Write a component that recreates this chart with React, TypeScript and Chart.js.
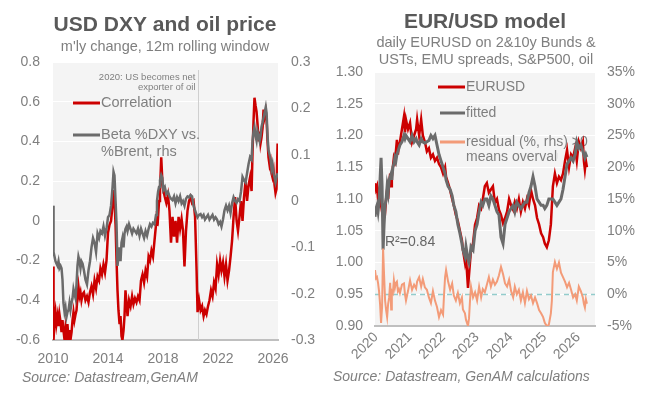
import React, { useEffect, useRef } from "react";
import { Chart, registerables } from "chart.js";

Chart.register(...registerables);

const FONT = "'Liberation Sans', Arial, Helvetica, sans-serif";
const RED = "#cc0000";
const GRAY = "#6b6b6b";
const SALMON = "#f39b78";
const TICK_COLOR = "#7f7f7f";
const TITLE_COLOR = "#595959";

// ---------------- Left panel: USD DXY and oil price ----------------
const dxyDates = [
  2010.0, 2010.04, 2010.11, 2010.18, 2010.25, 2010.33, 2010.4, 2010.47, 2010.55, 2010.62,
  2010.69, 2010.76, 2010.84, 2010.91, 2010.98, 2011.05, 2011.13, 2011.2, 2011.27, 2011.35,
  2011.42, 2011.49, 2011.56, 2011.64, 2011.71, 2011.78, 2011.85, 2011.93, 2012.0, 2012.07,
  2012.15, 2012.25, 2012.36, 2012.47, 2012.58, 2012.69, 2012.8, 2012.91, 2013.02, 2013.13,
  2013.24, 2013.35, 2013.45, 2013.56, 2013.67, 2013.78, 2013.89, 2014.0, 2014.11, 2014.22,
  2014.33, 2014.4, 2014.47, 2014.55, 2014.62, 2014.69, 2014.76, 2014.84, 2014.91, 2014.98,
  2015.05, 2015.13, 2015.2, 2015.27, 2015.35, 2015.42, 2015.53, 2015.64, 2015.75, 2015.85,
  2015.96, 2016.07, 2016.18, 2016.29, 2016.4, 2016.51, 2016.62, 2016.73, 2016.84, 2016.95,
  2017.05, 2017.16, 2017.27, 2017.38, 2017.49, 2017.56, 2017.64, 2017.71, 2017.78, 2017.87,
  2017.95, 2018.02, 2018.13, 2018.24, 2018.36, 2018.47, 2018.58, 2018.69, 2018.8, 2018.91,
  2019.02, 2019.13, 2019.24, 2019.35, 2019.45, 2019.56, 2019.67, 2019.78, 2019.89, 2020.0,
  2020.11, 2020.22, 2020.33, 2020.44, 2020.51, 2020.62, 2020.73, 2020.84, 2020.95, 2021.05,
  2021.16, 2021.27, 2021.38, 2021.49, 2021.6, 2021.71, 2021.82, 2021.93, 2022.04, 2022.15,
  2022.25, 2022.36, 2022.47, 2022.58, 2022.69, 2022.8, 2022.91, 2023.02, 2023.13, 2023.24,
  2023.35, 2023.45, 2023.56, 2023.67, 2023.78, 2023.89, 2024.0, 2024.11, 2024.22, 2024.33,
  2024.44, 2024.51, 2024.58, 2024.65, 2024.73, 2024.8, 2024.87, 2024.95, 2025.02, 2025.09,
  2025.16, 2025.24, 2025.31, 2025.38, 2025.47, 2025.53, 2025.6, 2025.67, 2025.75, 2025.82,
  2025.89, 2025.96, 2026.04, 2026.11, 2026.18, 2026.25, 2026.33,
];

const correlation = [
  -0.23, -0.6, -0.5, -0.46, -0.52, -0.48, -0.53, -0.47, -0.51, -0.56,
  -0.5, -0.55, -0.6, -0.54, -0.58, -0.52, -0.6, -0.55, -0.6, -0.56,
  -0.5, -0.46, -0.5, -0.47, -0.45, -0.38, -0.33, -0.38, -0.36, -0.4,
  -0.37, -0.36, -0.4, -0.38, -0.41, -0.36, -0.33, -0.37, -0.3, -0.34,
  -0.28, -0.3, -0.24, -0.27, -0.22, -0.26, -0.2, -0.06, -0.02, 0.0,
  0.08, 0.155, 0.1, -0.02, -0.2, -0.35, -0.45, -0.52, -0.48, -0.58,
  -0.6, -0.55, -0.48, -0.35, -0.42, -0.48, -0.4, -0.43, -0.38, -0.42,
  -0.39, -0.41, -0.38, -0.4, -0.3, -0.27, -0.31, -0.25, -0.28, -0.18,
  -0.2, -0.15, -0.18, -0.1, -0.02, 0.05, 0.02, 0.1, 0.15, 0.32,
  0.2, 0.155, 0.12, 0.09, 0.13, 0.05, -0.11, 0.02, -0.08, 0.0,
  -0.11, 0.02, -0.04, 0.01, -0.046, -0.23, -0.05, 0.05, 0.1, 0.12,
  0.09, 0.1, 0.02, -0.25, -0.46, -0.4, -0.45, -0.43, -0.48, -0.45,
  -0.47, -0.43, -0.4, -0.35, -0.38, -0.31, -0.34, -0.22, -0.27, -0.2,
  -0.25, -0.21, -0.28, -0.22, -0.3, -0.25, -0.18, -0.1, 0.02, 0.12,
  0.0, -0.05, 0.02, 0.1, 0.0, 0.12, 0.2, 0.1, 0.18, 0.22,
  0.15, 0.35, 0.5, 0.62, 0.58, 0.55, 0.49, 0.4, 0.45, 0.39,
  0.42, 0.47, 0.56, 0.52, 0.55, 0.51, 0.4, 0.32, 0.28, 0.3,
  0.24, 0.22, 0.25, 0.18, 0.14, 0.16, 0.39,
];

const betaDxyBrent = [
  -0.01, -0.11, -0.12, -0.13, -0.135, -0.14, -0.13, -0.145, -0.14, -0.145,
  -0.17, -0.22, -0.24, -0.23, -0.25, -0.24, -0.235, -0.22, -0.235, -0.22,
  -0.21, -0.19, -0.2, -0.21, -0.18, -0.14, -0.12, -0.13, -0.145, -0.13,
  -0.135, -0.15, -0.17, -0.18, -0.15, -0.13, -0.1, -0.08, -0.09, -0.11,
  -0.07, -0.08, -0.065, -0.07, -0.055, -0.075, -0.06, -0.035, -0.03, -0.01,
  0.03, 0.063, 0.055, 0.0, -0.05, -0.14, -0.12, -0.1, -0.13, -0.09,
  -0.08, -0.1, -0.07, -0.06, -0.055, -0.065, -0.05, -0.06, -0.07, -0.06,
  -0.065, -0.07, -0.06, -0.075, -0.06, -0.07, -0.08, -0.065, -0.075, -0.06,
  -0.05, -0.055, -0.047, -0.05, -0.03, 0.0, 0.02, 0.03, 0.045, 0.056,
  0.05, 0.024, 0.03, 0.015, 0.02, 0.01, 0.005, 0.002, 0.01, -0.005,
  0.008, 0.0, 0.01, -0.005, 0.0, -0.01, 0.005, 0.01, 0.008, 0.013,
  0.01, -0.01, -0.02, -0.03, -0.035, -0.03, -0.028, -0.035, -0.03, -0.04,
  -0.035, -0.03, -0.04, -0.035, -0.03, -0.04, -0.035, -0.04, -0.05, -0.045,
  -0.055, -0.04, -0.02, -0.01, -0.02, -0.01, -0.026, -0.005, 0.008, 0.0,
  -0.004, 0.004, 0.0, 0.02, 0.052, 0.045, 0.04, 0.06, 0.08, 0.095,
  0.09, 0.13, 0.15, 0.16, 0.14, 0.13, 0.15, 0.14, 0.13, 0.14,
  0.16, 0.17, 0.18, 0.19, 0.203, 0.19, 0.14, 0.11, 0.1, 0.09,
  0.07, 0.08, 0.06, 0.05, 0.04, 0.05, 0.06,
];

const dxyYearTicks = [2010, 2014, 2018, 2022, 2026];
const corrTicks = [-0.6, -0.4, -0.2, 0, 0.2, 0.4, 0.6, 0.8];
const betaTicks = [-0.3, -0.2, -0.1, 0, 0.1, 0.2, 0.3];
const usNetExporterYear = 2020.55;

// ---------------- Right panel: EUR/USD model ----------------
const eurDates = [
  2019.97, 2020.0, 2020.03, 2020.06, 2020.09, 2020.12, 2020.15, 2020.18, 2020.21, 2020.24,
  2020.27, 2020.3, 2020.33, 2020.36, 2020.39, 2020.42, 2020.45, 2020.47, 2020.5, 2020.53,
  2020.56, 2020.59, 2020.62, 2020.65, 2020.68, 2020.71, 2020.77, 2020.83, 2020.86, 2020.89,
  2020.95, 2021.01, 2021.07, 2021.13, 2021.19, 2021.22, 2021.28, 2021.34, 2021.39, 2021.45,
  2021.51, 2021.57, 2021.63, 2021.69, 2021.75, 2021.81, 2021.87, 2021.93, 2021.99, 2022.02,
  2022.05, 2022.08, 2022.14, 2022.2, 2022.26, 2022.31, 2022.37, 2022.43, 2022.49, 2022.55,
  2022.58, 2022.64, 2022.67, 2022.73, 2022.76, 2022.79, 2022.82, 2022.88, 2022.94, 2023.0,
  2023.06, 2023.12, 2023.17, 2023.23, 2023.29, 2023.35, 2023.41, 2023.47, 2023.53, 2023.59,
  2023.65, 2023.71, 2023.77, 2023.83, 2023.89, 2023.95, 2024.01, 2024.07, 2024.12, 2024.18,
  2024.24, 2024.3, 2024.36, 2024.42, 2024.48, 2024.54, 2024.6, 2024.66, 2024.72, 2024.78,
  2024.84, 2024.9, 2024.96, 2025.01, 2025.07, 2025.13, 2025.19, 2025.22, 2025.25, 2025.31,
  2025.37, 2025.43, 2025.49, 2025.55, 2025.61, 2025.67, 2025.73, 2025.79, 2025.85, 2025.91,
  2025.96, 2026.02, 2026.08, 2026.14, 2026.17, 2026.2, 2026.23, 2026.26,
];

const eurusd = [
  1.125, 1.115, 1.12, 1.1, 1.11, 1.1, 1.09, 1.08, 1.072, 1.085,
  1.08, 1.1, 1.115, 1.1, 1.125, 1.14, 1.12, 1.135, 1.15, 1.165,
  1.16, 1.175, 1.193, 1.17, 1.185, 1.19, 1.21, 1.23, 1.205, 1.225,
  1.21, 1.22, 1.19, 1.2, 1.21, 1.225, 1.2, 1.225, 1.2, 1.19,
  1.175, 1.18, 1.165, 1.17, 1.16, 1.165, 1.155, 1.15, 1.14, 1.145,
  1.15, 1.135, 1.125, 1.114, 1.1, 1.09, 1.075, 1.065, 1.05, 1.035,
  1.02, 1.0, 1.01, 0.96, 0.98, 1.0, 1.02, 1.03, 1.06, 1.07,
  1.09, 1.085, 1.1, 1.12, 1.125, 1.11, 1.115, 1.12, 1.094, 1.1,
  1.083, 1.075, 1.062, 1.07, 1.08, 1.1, 1.09, 1.083, 1.095, 1.085,
  1.1, 1.08, 1.095, 1.085, 1.1, 1.09, 1.114, 1.1, 1.09, 1.07,
  1.06, 1.046, 1.04, 1.03, 1.024, 1.035, 1.06, 1.09, 1.12, 1.14,
  1.125, 1.135, 1.13, 1.14, 1.16, 1.177, 1.15, 1.17, 1.165, 1.18,
  1.16, 1.19, 1.18, 1.19, 1.16, 1.146, 1.16, 1.15,
];

const fitted = [
  1.072, 1.085, 1.09, 1.08, 1.095, 1.13, 1.165, 1.12, 1.02, 1.06,
  1.09, 1.1, 1.12, 1.11, 1.13, 1.135, 1.14, 1.13, 1.15, 1.155,
  1.165, 1.16, 1.17, 1.175, 1.18, 1.185, 1.19, 1.2, 1.195, 1.2,
  1.195, 1.19, 1.2, 1.19, 1.195, 1.19, 1.185, 1.195, 1.19, 1.188,
  1.19, 1.192, 1.2, 1.195, 1.2, 1.185, 1.17, 1.16, 1.15, 1.145,
  1.14, 1.13, 1.12, 1.115, 1.105, 1.09, 1.08, 1.06, 1.046, 1.03,
  1.02, 1.01, 1.025, 1.005, 1.0, 1.01, 1.025, 1.02, 1.05, 1.06,
  1.08, 1.095, 1.09, 1.1, 1.1, 1.09, 1.105, 1.1, 1.09, 1.08,
  1.075, 1.04, 1.03, 1.06, 1.07, 1.08, 1.085, 1.09, 1.08, 1.095,
  1.09, 1.085, 1.09, 1.095, 1.095, 1.11, 1.12, 1.135, 1.12, 1.1,
  1.095, 1.09, 1.09, 1.085, 1.09, 1.1, 1.1, 1.1, 1.1, 1.095,
  1.09, 1.095, 1.1, 1.115, 1.135, 1.155, 1.16, 1.165, 1.16, 1.17,
  1.19, 1.18, 1.185, 1.175, 1.17, 1.165, 1.17, 1.166,
];

const residual = [
  3.8, 2.5, 2.7, 1.8, 0.5, -1.5, -4.5, -2.0, 7.2, 3.0,
  -1.0, -2.5, -3.6, -1.5, -0.5, 1.8, -2.4, 0.5, 0.2, 2.2,
  1.0, 1.8, 2.0, 0.5, 0.8, 0.2, 1.5, 1.7, 0.0, -1.0,
  0.5, 2.2, 0.7, 1.5, 0.9, 2.0, 2.7, 1.2, 2.4, 1.1,
  0.7, -0.5, -1.4, 0.5, -1.0, -2.0, -3.6, -2.5, -3.2, 0.0,
  2.7, 3.8, 2.0, 0.7, 1.7, -0.2, -1.0, 0.2, -1.4, -0.5,
  -2.4, -3.0, -4.0, -5.0, -3.8, -1.0, 1.2, -0.5, 0.3, -1.0,
  1.2, -0.5, 0.8, 0.3, 1.5, 2.7, 1.2, 2.3, 1.5, 2.0,
  3.0, 4.3, 3.2, 1.7, 1.2, 2.3, 0.5, -0.5, 1.2, 0.0,
  0.7, -1.0, 0.3, -1.4, 0.5, -0.8, -0.2, -1.4, -0.5, -1.4,
  -2.5, -3.0, -3.6, -4.5, -5.0, -4.8, -3.0, -1.0, 3.5, 5.1,
  4.0, 5.0, 3.4, 2.7, 2.0, 1.1, 1.8, 0.7, -0.5, 0.0,
  -1.0, 1.2, 0.5, -0.5, -1.5, -2.1, -0.8, -1.5,
];

const eurYearTicks = [2020, 2021, 2022, 2023, 2024, 2025, 2026];
const eurTicks = [0.9, 0.95, 1.0, 1.05, 1.1, 1.15, 1.2, 1.25, 1.3];
const residTicks = [-5, 0, 5, 10, 15, 20, 25, 30, 35];
const rSquared = "R²=0.84";

// ---------------- helpers ----------------
const plotBg = {
  id: "plotBg",
  beforeDraw(chart: any) {
    const { ctx, chartArea: a } = chart;
    ctx.save();
    ctx.fillStyle = "#f4f4f4";
    ctx.fillRect(a.left, a.top, a.right - a.left, a.bottom - a.top);
    ctx.restore();
  },
};

function txt(
  ctx: CanvasRenderingContext2D,
  s: string,
  x: number,
  y: number,
  font: string,
  color: string,
  align: CanvasTextAlign = "left"
) {
  ctx.font = font;
  ctx.fillStyle = color;
  ctx.textAlign = align;
  ctx.textBaseline = "middle";
  ctx.fillText(s, x, y);
}

function sample(ctx: CanvasRenderingContext2D, x0: number, x1: number, y: number, color: string) {
  ctx.strokeStyle = color;
  ctx.lineWidth = 3;
  ctx.beginPath();
  ctx.moveTo(x0, y);
  ctx.lineTo(x1, y);
  ctx.stroke();
}

const tickFont = { family: FONT, size: 14 };

function pts(xs: number[], ys: number[]) {
  return xs.map((x, i) => ({ x, y: ys[i] }));
}

// ---------------- components ----------------
function LeftChart() {
  const ref = useRef<HTMLCanvasElement | null>(null);
  useEffect(() => {
    if (!ref.current) return;
    const decor = {
      id: "leftDecor",
      beforeDatasetsDraw(chart: any) {
        const { ctx, chartArea: a, scales } = chart;
        ctx.save();
        const vx = Math.round(scales.x.getPixelForValue(usNetExporterYear)) + 0.5;
        ctx.strokeStyle = "#cfcfcf";
        ctx.lineWidth = 1;
        ctx.beginPath();
        ctx.moveTo(vx, a.top + 8);
        ctx.lineTo(vx, a.bottom);
        ctx.stroke();
        txt(ctx, "2020: US becomes net", vx - 3, 77, `9.5px ${FONT}`, "#7f7f7f", "right");
        txt(ctx, "exporter of oil", vx - 3, 87, `9.5px ${FONT}`, "#7f7f7f", "right");
        sample(ctx, 73, 100, 103, RED);
        txt(ctx, "Correlation", 101, 103, `14.5px ${FONT}`, TICK_COLOR);
        sample(ctx, 73, 100, 135, GRAY);
        txt(ctx, "Beta %DXY vs.", 101, 135, `14.5px ${FONT}`, TICK_COLOR);
        txt(ctx, "%Brent, rhs", 101, 152, `14.5px ${FONT}`, TICK_COLOR);
        ctx.restore();
      },
      afterDraw(chart: any) {
        const { ctx } = chart;
        ctx.save();
        txt(ctx, "USD DXY and oil price", 165, 25, `bold 21px ${FONT}`, TITLE_COLOR, "center");
        txt(ctx, "m'ly change, 12m rolling window", 165, 47, `14.5px ${FONT}`, TICK_COLOR, "center");
        txt(ctx, "Source: Datastream,GenAM", 22, 378, `italic 14px ${FONT}`, TICK_COLOR);
        ctx.restore();
      },
    };
    const chart = new Chart(ref.current, {
      type: "line",
      data: {
        datasets: [
          {
            label: "Beta %DXY vs. %Brent, rhs",
            data: pts(dxyDates, betaDxyBrent),
            yAxisID: "y1",
            borderColor: GRAY,
            borderWidth: 2.5,
            pointRadius: 0,
            order: 1,
          },
          {
            label: "Correlation",
            data: pts(dxyDates, correlation),
            yAxisID: "y",
            borderColor: RED,
            borderWidth: 2.5,
            pointRadius: 0,
            order: 2,
          },
        ],
      },
      options: {
        responsive: false,
        animation: false,
        devicePixelRatio: 1,
        layout: { padding: { top: 62, left: 0, right: 0, bottom: 0 } },
        plugins: { legend: { display: false }, tooltip: { enabled: false } },
        scales: {
          x: {
            type: "linear",
            min: 2010,
            max: 2026.36,
            afterBuildTicks: (s: any) => {
              s.ticks = dxyYearTicks.map((v) => ({ value: v }));
            },
            afterFit: (s: any) => {
              s.height = 55;
            },
            grid: { display: false, drawTicks: false },
            border: { display: true, color: "#bfbfbf", width: 2 },
            ticks: {
              padding: 11,
              maxRotation: 0,
              minRotation: 0,
              autoSkip: false,
              color: TICK_COLOR,
              font: tickFont,
              callback: (v: any) => String(v),
            },
          },
          y: {
            position: "left",
            min: -0.6,
            max: 0.8,
            afterBuildTicks: (s: any) => {
              s.ticks = corrTicks.map((v) => ({ value: v }));
            },
            afterFit: (s: any) => {
              s.width = 53;
            },
            grid: { color: "#ffffff", lineWidth: 1, drawTicks: false },
            border: { display: false },
            ticks: {
              padding: 13,
              color: TICK_COLOR,
              font: tickFont,
              callback: (v: any) => (v === 0 ? "0" : Number(v).toFixed(1)),
            },
          },
          y1: {
            position: "right",
            min: -0.3,
            max: 0.3,
            afterBuildTicks: (s: any) => {
              s.ticks = betaTicks.map((v) => ({ value: v }));
            },
            afterFit: (s: any) => {
              s.width = 52;
            },
            grid: { display: false, drawTicks: false },
            border: { display: false },
            ticks: {
              padding: 13,
              color: TICK_COLOR,
              font: tickFont,
              callback: (v: any) => (v === 0 ? "0" : Number(v).toFixed(1)),
            },
          },
        },
      } as any,
      plugins: [plotBg, decor],
    });
    return () => chart.destroy();
  }, []);
  return (
    <canvas
      ref={ref}
      width={330}
      height={395}
      style={{ position: "absolute", left: 0, top: 0, width: 330, height: 395 }}
    />
  );
}

function RightChart() {
  const ref = useRef<HTMLCanvasElement | null>(null);
  useEffect(() => {
    if (!ref.current) return;
    const decor = {
      id: "rightDecor",
      beforeDatasetsDraw(chart: any) {
        const { ctx, chartArea: a, scales } = chart;
        ctx.save();
        const zy = Math.round(scales.y1.getPixelForValue(0)) + 0.5;
        ctx.strokeStyle = "#93cccc";
        ctx.lineWidth = 1.5;
        ctx.setLineDash([5, 4]);
        ctx.beginPath();
        ctx.moveTo(a.left, zy);
        ctx.lineTo(a.right, zy);
        ctx.stroke();
        ctx.setLineDash([]);
        sample(ctx, 108, 135, 87, RED);
        txt(ctx, "EURUSD", 136, 87, `14px ${FONT}`, TICK_COLOR);
        sample(ctx, 110, 135, 113, GRAY);
        txt(ctx, "fitted", 136, 113, `14px ${FONT}`, TICK_COLOR);
        sample(ctx, 110, 135, 142, SALMON);
        txt(ctx, "residual (%, rhs) >0", 136, 142, `14px ${FONT}`, TICK_COLOR);
        // legend box is narrower than the text: clip like the original legend
        ctx.save();
        ctx.beginPath();
        ctx.rect(100, 148, 128, 20);
        ctx.clip();
        txt(ctx, "means overvalued", 136, 157, `14px ${FONT}`, TICK_COLOR);
        ctx.restore();
        txt(ctx, rSquared, 55, 242, `14px ${FONT}`, "#666666");
        ctx.restore();
      },
      afterDraw(chart: any) {
        const { ctx } = chart;
        ctx.save();
        txt(ctx, "EUR/USD model", 155, 22, `bold 21px ${FONT}`, TITLE_COLOR, "center");
        txt(ctx, "daily EURUSD on 2&10y Bunds &", 156, 43, `14.5px ${FONT}`, TICK_COLOR, "center");
        txt(ctx, "USTs, EMU spreads, S&P500, oil", 156, 60, `14.5px ${FONT}`, TICK_COLOR, "center");
        txt(ctx, "Source: Datastream, GenAM calculations", 3, 377, `italic 14px ${FONT}`, TICK_COLOR);
        ctx.restore();
      },
    };
    const chart = new Chart(ref.current, {
      type: "line",
      data: {
        datasets: [
          {
            label: "residual (%, rhs) >0 means overvalued",
            data: pts(eurDates, residual),
            yAxisID: "y1",
            borderColor: SALMON,
            borderWidth: 2,
            pointRadius: 0,
            order: 0,
          },
          {
            label: "fitted",
            data: pts(eurDates, fitted),
            yAxisID: "y",
            borderColor: GRAY,
            borderWidth: 3,
            pointRadius: 0,
            order: 1,
          },
          {
            label: "EURUSD",
            data: pts(eurDates, eurusd),
            yAxisID: "y",
            borderColor: RED,
            borderWidth: 2.5,
            pointRadius: 0,
            order: 2,
          },
        ],
      },
      options: {
        responsive: false,
        animation: false,
        devicePixelRatio: 1,
        layout: { padding: { top: 72, left: 0, right: 0, bottom: 0 } },
        plugins: { legend: { display: false }, tooltip: { enabled: false } },
        scales: {
          x: {
            type: "linear",
            min: 2019.97,
            max: 2026.5,
            afterBuildTicks: (s: any) => {
              s.ticks = eurYearTicks.map((v) => ({ value: v }));
            },
            afterFit: (s: any) => {
              s.height = 69;
            },
            grid: { display: false, drawTicks: false },
            border: { display: true, color: "#bfbfbf", width: 2 },
            ticks: {
              padding: 3,
              maxRotation: 45,
              minRotation: 45,
              autoSkip: false,
              color: TICK_COLOR,
              font: tickFont,
              callback: (v: any) => String(v),
            },
          },
          y: {
            position: "left",
            min: 0.9,
            max: 1.3,
            afterBuildTicks: (s: any) => {
              s.ticks = eurTicks.map((v) => ({ value: v }));
            },
            afterFit: (s: any) => {
              s.width = 45;
            },
            grid: { color: "#ffffff", lineWidth: 1, drawTicks: false },
            border: { display: false },
            ticks: {
              padding: 12,
              color: TICK_COLOR,
              font: tickFont,
              callback: (v: any) => Number(v).toFixed(2),
            },
          },
          y1: {
            position: "right",
            min: -5,
            max: 35,
            afterBuildTicks: (s: any) => {
              s.ticks = residTicks.map((v) => ({ value: v }));
            },
            afterFit: (s: any) => {
              s.width = 58;
            },
            grid: { display: false, drawTicks: false },
            border: { display: false },
            ticks: {
              padding: 12,
              color: TICK_COLOR,
              font: tickFont,
              callback: (v: any) => `${v}%`,
            },
          },
        },
      } as any,
      plugins: [plotBg, decor],
    });
    return () => chart.destroy();
  }, []);
  return (
    <canvas
      ref={ref}
      width={323}
      height={395}
      style={{ position: "absolute", left: 330, top: 0, width: 323, height: 395 }}
    />
  );
}

export default function App() {
  return (
    <div
      style={{
        position: "absolute",
        left: 0,
        top: 0,
        width: 653,
        height: 395,
        background: "#ffffff",
        overflow: "hidden",
      }}
    >
      <LeftChart />
      <RightChart />
    </div>
  );
}
